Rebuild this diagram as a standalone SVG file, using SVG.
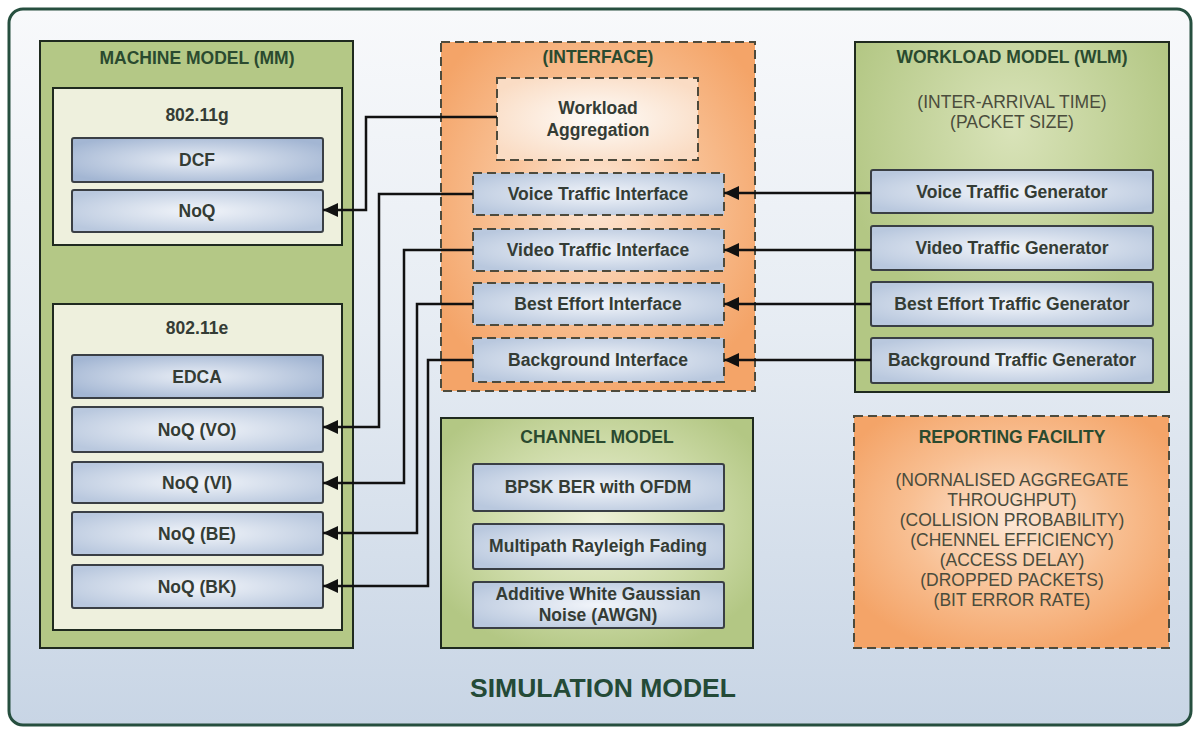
<svg xmlns="http://www.w3.org/2000/svg" width="1195" height="729" viewBox="0 0 1195 729">
  <style>
    text { font-family: "Liberation Sans", Arial, sans-serif; text-anchor: middle; }
    .title { font-size: 17.5px; font-weight: bold; fill: #2a4a2f; }
    .lbl { font-size: 17.5px; font-weight: bold; fill: #343c35; }
    .note { font-size: 17.5px; fill: #4a4c3c; }
    .big { font-size: 26.5px; font-weight: bold; fill: #244a37; }
    .green { fill: #b4c886; stroke: #1f2a1f; stroke-width: 2; }
    .cream { fill: #eef0dd; stroke: #1f2a1f; stroke-width: 2; }
    .blue { fill: url(#gBlue); stroke: #3a3f45; stroke-width: 2; }
    .blueDark { fill: url(#gBlueDark); stroke: #3a3f45; stroke-width: 2; }
    .orange { fill: url(#gOrange); stroke: #4d4a3c; stroke-width: 2; stroke-dasharray: 9 5; }
    .blueDash { fill: url(#gBlue); stroke: #4d4a3c; stroke-width: 2; stroke-dasharray: 9 5; }
    .light { fill: url(#gPeach); stroke: #4d4a3c; stroke-width: 2; stroke-dasharray: 9 5; }
    .arrow { fill: none; stroke: #111; stroke-width: 2.5; marker-end: url(#head); }
  </style>
  <defs>
    <linearGradient id="gBg" x1="0" y1="0" x2="0" y2="1">
      <stop offset="0" stop-color="#f8f9fb"/>
      <stop offset="0.45" stop-color="#e6ecf3"/>
      <stop offset="1" stop-color="#c8d5e5"/>
    </linearGradient>
    <radialGradient id="gBlue" cx="0.5" cy="0.5" r="0.6">
      <stop offset="0" stop-color="#f2f5fa"/>
      <stop offset="1" stop-color="#b9c8de"/>
    </radialGradient>
    <radialGradient id="gBlueDark" cx="0.5" cy="0.5" r="0.6">
      <stop offset="0" stop-color="#e9eef6"/>
      <stop offset="1" stop-color="#a3b6d3"/>
    </radialGradient>
    <radialGradient id="gOrange" cx="0.5" cy="0.45" r="0.6">
      <stop offset="0" stop-color="#fde7d6"/>
      <stop offset="0.55" stop-color="#f8bf92"/>
      <stop offset="1" stop-color="#f4a468"/>
    </radialGradient>
    <radialGradient id="gPeach" cx="0.5" cy="0.5" r="0.6">
      <stop offset="0" stop-color="#fefcf9"/>
      <stop offset="1" stop-color="#fadcc4"/>
    </radialGradient>
    <radialGradient id="gGreen" cx="0.5" cy="0.45" r="0.6">
      <stop offset="0" stop-color="#eef1d8"/>
      <stop offset="0.6" stop-color="#ccdaa6"/>
      <stop offset="1" stop-color="#b3c784"/>
    </radialGradient>
    <radialGradient id="gGreenTop" cx="0.5" cy="0.25" r="0.55">
      <stop offset="0" stop-color="#d9e3b9"/>
      <stop offset="1" stop-color="#b3c784"/>
    </radialGradient>
    <marker id="head" markerUnits="userSpaceOnUse" markerWidth="16" markerHeight="14" refX="15" refY="7" orient="auto">
      <path d="M0,0 L15,7 L0,14 Z" fill="#111"/>
    </marker>
  </defs>

  <!-- simulation model frame -->
  <g id="simulation-model">
    <rect x="9" y="9" width="1182" height="716" rx="14" fill="url(#gBg)" stroke="#264f3f" stroke-width="3"/>
    <text class="big" x="603" y="697">SIMULATION MODEL</text>
  </g>

  <!-- machine model -->
  <g id="machine-model">
    <rect class="green" x="40" y="41" width="313" height="607"/>
    <text class="title" x="197" y="64">MACHINE MODEL (MM)</text>
  </g>
  <g id="mm-80211g">
    <rect class="cream" x="53" y="88" width="289" height="157"/>
    <text class="lbl" x="197" y="121">802.11g</text>
  </g>
  <g id="mm-dcf">
    <rect class="blueDark" x="72" y="138" width="251" height="44" rx="2"/>
    <text class="lbl" x="197" y="166">DCF</text>
  </g>
  <g id="mm-noq">
    <rect class="blue" x="72" y="190" width="251" height="42" rx="2"/>
    <text class="lbl" x="197" y="217">NoQ</text>
  </g>
  <g id="mm-80211e">
    <rect class="cream" x="53" y="304" width="289" height="326"/>
    <text class="lbl" x="197" y="334">802.11e</text>
  </g>
  <g id="mm-edca">
    <rect class="blueDark" x="72" y="355" width="251" height="43" rx="2"/>
    <text class="lbl" x="197" y="383">EDCA</text>
  </g>
  <g id="mm-noq-vo">
    <rect class="blue" x="72" y="407" width="251" height="45" rx="2"/>
    <text class="lbl" x="197" y="436">NoQ (VO)</text>
  </g>
  <g id="mm-noq-vi">
    <rect class="blue" x="72" y="462" width="251" height="41" rx="2"/>
    <text class="lbl" x="197" y="489">NoQ (VI)</text>
  </g>
  <g id="mm-noq-be">
    <rect class="blue" x="72" y="512" width="251" height="43" rx="2"/>
    <text class="lbl" x="197" y="540">NoQ (BE)</text>
  </g>
  <g id="mm-noq-bk">
    <rect class="blue" x="72" y="565" width="251" height="43" rx="2"/>
    <text class="lbl" x="197" y="593">NoQ (BK)</text>
  </g>

  <!-- interface -->
  <g id="interface">
    <rect class="orange" x="441" y="42" width="314" height="349"/>
    <text class="title" x="598" y="63">(INTERFACE)</text>
  </g>
  <g id="workload-aggregation">
    <rect class="light" x="497" y="78" width="201" height="82"/>
    <text class="lbl" x="598" y="114">Workload</text>
    <text class="lbl" x="598" y="136">Aggregation</text>
  </g>
  <g id="voice-interface">
    <rect class="blueDash" x="473" y="173" width="251" height="42"/>
    <text class="lbl" x="598" y="200">Voice Traffic Interface</text>
  </g>
  <g id="video-interface">
    <rect class="blueDash" x="473" y="229" width="251" height="42"/>
    <text class="lbl" x="598" y="256">Video Traffic Interface</text>
  </g>
  <g id="best-effort-interface">
    <rect class="blueDash" x="473" y="283" width="251" height="42"/>
    <text class="lbl" x="598" y="310">Best Effort Interface</text>
  </g>
  <g id="background-interface">
    <rect class="blueDash" x="473" y="338" width="251" height="44"/>
    <text class="lbl" x="598" y="366">Background Interface</text>
  </g>

  <!-- workload model -->
  <g id="workload-model">
    <rect class="green" x="855" y="42" width="314" height="350" style="fill:url(#gGreenTop)"/>
    <text class="title" x="1012" y="63">WORKLOAD MODEL (WLM)</text>
    <text class="note" x="1012" y="108">(INTER-ARRIVAL TIME)</text>
    <text class="note" x="1012" y="128">(PACKET SIZE)</text>
  </g>
  <g id="voice-generator">
    <rect class="blue" x="871" y="170" width="282" height="43" rx="2"/>
    <text class="lbl" x="1012" y="198">Voice Traffic Generator</text>
  </g>
  <g id="video-generator">
    <rect class="blue" x="871" y="226" width="282" height="44" rx="2"/>
    <text class="lbl" x="1012" y="254">Video Traffic Generator</text>
  </g>
  <g id="best-effort-generator">
    <rect class="blue" x="871" y="282" width="282" height="44" rx="2"/>
    <text class="lbl" x="1012" y="310">Best Effort Traffic Generator</text>
  </g>
  <g id="background-generator">
    <rect class="blue" x="871" y="338" width="282" height="45" rx="2"/>
    <text class="lbl" x="1012" y="366">Background Traffic Generator</text>
  </g>

  <!-- channel model -->
  <g id="channel-model">
    <rect class="green" x="441" y="418" width="312" height="230" style="fill:url(#gGreen)"/>
    <text class="title" x="597" y="443">CHANNEL MODEL</text>
  </g>
  <g id="bpsk-ber">
    <rect class="blue" x="473" y="464" width="251" height="47" rx="2"/>
    <text class="lbl" x="598" y="493">BPSK BER with OFDM</text>
  </g>
  <g id="rayleigh-fading">
    <rect class="blue" x="473" y="524" width="251" height="45" rx="2"/>
    <text class="lbl" x="598" y="552">Multipath Rayleigh Fading</text>
  </g>
  <g id="awgn">
    <rect class="blue" x="473" y="582" width="251" height="46" rx="2"/>
    <text class="lbl" x="598" y="600">Additive White Gaussian</text>
    <text class="lbl" x="598" y="621">Noise (AWGN)</text>
  </g>

  <!-- reporting facility -->
  <g id="reporting-facility">
    <rect class="orange" x="854" y="416" width="315" height="232"/>
    <text class="title" x="1012" y="443">REPORTING FACILITY</text>
    <text class="note" x="1012" y="486">(NORNALISED AGGREGATE</text>
    <text class="note" x="1012" y="506">THROUGHPUT)</text>
    <text class="note" x="1012" y="526">(COLLISION PROBABILITY)</text>
    <text class="note" x="1012" y="546">(CHENNEL EFFICIENCY)</text>
    <text class="note" x="1012" y="566">(ACCESS DELAY)</text>
    <text class="note" x="1012" y="586">(DROPPED PACKETS)</text>
    <text class="note" x="1012" y="606">(BIT ERROR RATE)</text>
  </g>

  <!-- connectors -->
  <g id="connectors">
    <path class="arrow" d="M497,117 H366 V210 H323"/>
    <path class="arrow" d="M473,194 H379 V427 H323"/>
    <path class="arrow" d="M473,250 H404 V483 H323"/>
    <path class="arrow" d="M473,304 H417 V533 H323"/>
    <path class="arrow" d="M473,360 H428 V586 H323"/>
    <path class="arrow" d="M871,193 H724"/>
    <path class="arrow" d="M871,250 H724"/>
    <path class="arrow" d="M871,304 H724"/>
    <path class="arrow" d="M871,360 H724"/>
  </g>
</svg>
